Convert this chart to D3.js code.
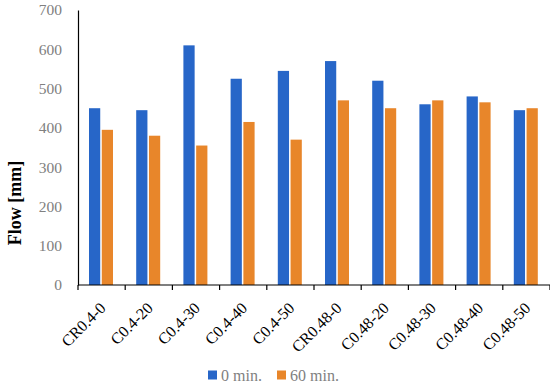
<!DOCTYPE html>
<html>
<head>
<meta charset="utf-8">
<script src="https://cdn.jsdelivr.net/npm/d3@7"></script>
<style>
  body { margin: 0; background: #fff; }
  svg { display: block; }
</style>
</head>
<body>
<svg id="chart"></svg>
<script>
// Data
const categories = ["CR0.4-0", "C0.4-20", "C0.4-30", "C0.4-40", "C0.4-50",
                    "CR0.48-0", "C0.48-20", "C0.48-30", "C0.48-40", "C0.48-50"];
const flow0 = [450, 445, 610, 525, 545, 570, 520, 460, 480, 445];
const flow60 = [395, 380, 355, 415, 370, 470, 450, 470, 465, 450];
const seriesNames = ["0 min.", "60 min."];
const yTicks = [0, 100, 200, 300, 400, 500, 600, 700];

const colors = ["#2766c8", "#e8862a"];

const width = 550;
const height = 388;
const marginTop = 10;
const marginRight = 0;
const marginBottom = 103;
const marginLeft = 78;

const svg = d3.select("#chart")
    .attr("width", width)
    .attr("height", height);

const x = d3.scaleBand()
    .domain(categories)
    .range([marginLeft, width - marginRight]);

const xInner = d3.scaleBand()
    .domain([0, 1])
    .range([11, 35])
    .paddingInner(0.12);

const y = d3.scaleLinear()
    .domain([0, 700])
    .range([height - marginBottom, marginTop]);

const fontFamily = "'Liberation Serif', 'DejaVu Serif', serif";

// bars
const series = [flow0, flow60];
series.forEach((vals, si) => {
    svg.append("g")
      .selectAll("rect")
      .data(vals)
      .join("rect")
        .attr("x", (d, i) => x(categories[i]) + xInner(si))
        .attr("y", d => y(d))
        .attr("width", xInner.bandwidth())
        .attr("height", d => y(0) - y(d))
        .attr("fill", colors[si]);
});

// y axis: line + gray labels, no tick marks
const yAxis = svg.append("g")
    .attr("transform", `translate(${marginLeft},0)`)
    .call(d3.axisLeft(y).tickValues(yTicks).tickSize(0).tickPadding(16));
yAxis.select(".domain").attr("stroke", "#000").attr("stroke-width", 1.2);
yAxis.selectAll("text")
    .attr("fill", "#808080")
    .style("font-family", fontFamily)
    .style("font-size", "15.5px");

// x axis with ticks at band boundaries
const xAxis = svg.append("g")
    .attr("transform", `translate(0,${y(0)})`);
xAxis.append("line")
    .attr("x1", marginLeft).attr("x2", width)
    .attr("stroke", "#000").attr("stroke-width", 1.2);
const bounds = categories.map(d => x(d)).concat([x(categories[categories.length - 1]) + x.bandwidth()]);
xAxis.selectAll("line.tick")
    .data(bounds)
    .join("line")
    .attr("class", "tick")
    .attr("x1", d => d).attr("x2", d => d)
    .attr("y1", 0).attr("y2", 5)
    .attr("stroke", "#000").attr("stroke-width", 1.2);
xAxis.selectAll("text")
    .data(categories)
    .join("text")
    .attr("transform", d => `translate(${x(d) + x.bandwidth() / 2 + 5},24) rotate(-45)`)
    .attr("text-anchor", "end")
    .attr("fill", "#000")
    .style("font-family", fontFamily)
    .style("font-size", "16px")
    .text(d => d);

// y title
svg.append("text")
    .attr("transform", "translate(21,203) rotate(-90)")
    .attr("text-anchor", "middle")
    .attr("fill", "#000")
    .style("font-family", fontFamily)
    .style("font-size", "18px")
    .style("font-weight", "bold")
    .text("Flow [mm]");

// legend
const legend = svg.append("g").attr("transform", "translate(208,375)");
const legendX = [0, 69];
seriesNames.forEach((name, i) => {
    const g = legend.append("g").attr("transform", `translate(${legendX[i]},0)`);
    g.append("rect")
        .attr("x", 0).attr("y", -4.5)
        .attr("width", 9).attr("height", 9)
        .attr("fill", colors[i]);
    g.append("text")
        .attr("x", 13).attr("y", 0)
        .attr("dy", "0.35em")
        .attr("fill", "#7f7f7f")
        .style("font-family", fontFamily)
        .style("font-size", "16px")
        .text(name);
});
</script>
</body>
</html>
